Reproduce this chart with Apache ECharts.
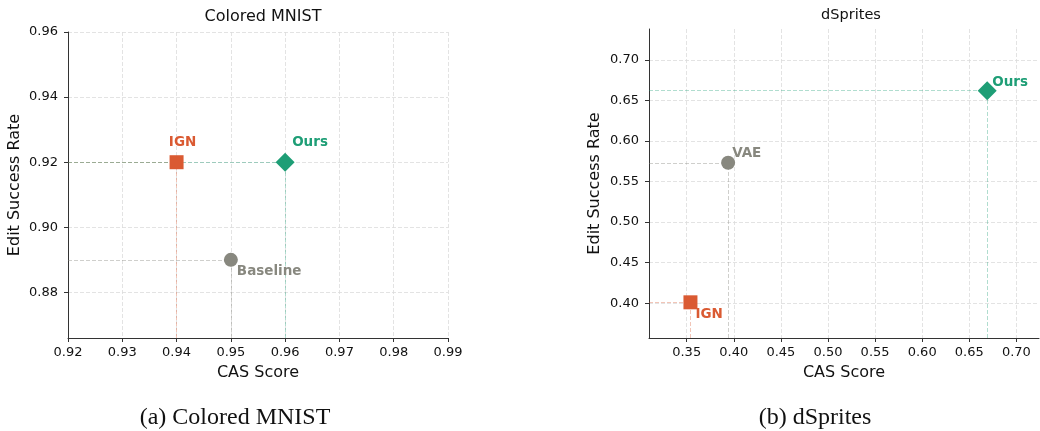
<!DOCTYPE html>
<html><head><meta charset="utf-8">
<script src="https://cdn.jsdelivr.net/npm/echarts@6/dist/echarts.min.js"></script>
<style>html,body{margin:0;padding:0;background:#fff}#c{width:1040px;height:431px}</style>
</head><body><div id="c"></div>
<script>
// Colored MNIST
const mnistNames = ['IGN', 'Ours', 'Baseline'];
const mnistCAS = [0.94, 0.96, 0.95];
const mnistEdit = [0.92, 0.92, 0.89];
const mnistXTicks = [0.92, 0.93, 0.94, 0.95, 0.96, 0.97, 0.98, 0.99];
const mnistYTicks = [0.88, 0.90, 0.92, 0.94, 0.96];
// dSprites
const dsNames = ['IGN', 'VAE', 'Ours'];
const dsCAS = [0.354, 0.394, 0.669];
const dsEdit = [0.401, 0.573, 0.662];
const dsXTicks = [0.35, 0.40, 0.45, 0.50, 0.55, 0.60, 0.65, 0.70];
const dsYTicks = [0.40, 0.45, 0.50, 0.55, 0.60, 0.65, 0.70];

const COL = {IGN: '#da5a32', Ours: '#1e9e76', Baseline: '#88887f', VAE: '#88887f'};
const GUIDE = {IGN: 'rgba(218,90,50,0.35)', Ours: 'rgba(30,158,118,0.35)', Baseline: 'rgba(136,136,127,0.4)', VAE: 'rgba(136,136,127,0.4)'};
const SYM = {IGN: 'rect', Ours: 'diamond', Baseline: 'circle', VAE: 'circle'};
const SIZE = {IGN: 14, Ours: 19, Baseline: 14, VAE: 14};
const LBL = {
  0: {IGN: ['center', [6, -20]], Ours: ['left', [7, -20]], Baseline: ['left', [6, 12]]},
  1: {IGN: ['left', [5, 12]], VAE: ['left', [4, -9]], Ours: ['left', [5, -8]]}
};
const F = 'DejaVu Sans';

const chart = echarts.init(document.getElementById('c'));
const axisCommon = {
  axisLine: {show: true, lineStyle: {color: '#333', width: 1}},
  axisTick: {show: true, length: 4, lineStyle: {color: '#333'}},
  splitLine: {show: true, lineStyle: {color: '#dcdcdc', type: [4, 2], width: 0.8}},
  nameTextStyle: {fontFamily: F, fontSize: 16, color: '#111'}
};
function xAxis(idx, min, max, ticks, gap) {
  return Object.assign({}, axisCommon, {
    type: 'value', gridIndex: idx, min: min, max: max,
    name: 'CAS Score', nameLocation: 'middle', nameGap: gap,
    axisTick: Object.assign({}, axisCommon.axisTick, {customValues: ticks}),
    axisLabel: {customValues: ticks, margin: 8, fontFamily: F, fontSize: 13, color: '#111', formatter: v => v.toFixed(2)}
  });
}
function yAxis(idx, min, max, ticks, gap) {
  return Object.assign({}, axisCommon, {
    type: 'value', gridIndex: idx, min: min, max: max,
    name: 'Edit Success Rate', nameLocation: 'middle', nameGap: gap,
    axisTick: Object.assign({}, axisCommon.axisTick, {customValues: ticks}),
    axisLabel: {customValues: ticks, margin: 10, fontFamily: F, fontSize: 13, color: '#111', formatter: v => v.toFixed(2)}
  });
}
const xmins = [0.92, 0.31];
const ymins = [0.866, 0.357];
function seriesFor(idx, names, xs, ys) {
  return names.map((n, i) => ({
    type: 'scatter', xAxisIndex: idx, yAxisIndex: idx, name: n,
    data: [[xs[i], ys[i]]],
    symbol: SYM[n], symbolSize: SIZE[n],
    itemStyle: {color: COL[n], opacity: 1},
    z: 5,
    label: {show: true, formatter: n, position: 'inside', align: LBL[idx][n][0], verticalAlign: 'middle',
      offset: LBL[idx][n][1], color: COL[n], fontFamily: F, fontWeight: 'bold', fontSize: 13.5},
    markLine: {silent: true, symbol: 'none', animation: false, label: {show: false},
      lineStyle: {color: GUIDE[n], type: [4, 2], width: 1},
      data: [
        [{coord: [xmins[idx], ys[i]]}, {coord: [xs[i], ys[i]]}],
        [{coord: [xs[i], ymins[idx]]}, {coord: [xs[i], ys[i]]}]
      ]}
  }));
}
chart.setOption({
  animation: false,
  title: [
    {text: 'Colored MNIST', left: 258, top: 4, textAlign: 'center', textStyle: {fontFamily: F, fontSize: 16, fontWeight: 'normal', color: '#111'}},
    {text: 'dSprites', left: 846, top: 3, textAlign: 'center', textStyle: {fontFamily: F, fontSize: 14.5, fontWeight: 'normal', color: '#111'}}
  ],
  grid: [
    {left: 68, right: 592, top: 32, bottom: 93, containLabel: false},
    {left: 649, right: 1, top: 29, bottom: 93, containLabel: false}
  ],
  xAxis: [xAxis(0, 0.92, 0.99, mnistXTicks, 27), xAxis(1, 0.31, 0.724, dsXTicks, 27)],
  yAxis: [yAxis(0, 0.866, 0.96, mnistYTicks, 45), yAxis(1, 0.357, 0.738, dsYTicks, 46)],
  series: [].concat(seriesFor(0, mnistNames, mnistCAS, mnistEdit), seriesFor(1, dsNames, dsCAS, dsEdit)),
  graphic: [
    {type: 'text', style: {text: '(a) Colored MNIST', x: 235, y: 418, align: 'center', verticalAlign: 'middle', font: '24px "Liberation Serif"', fill: '#111'}},
    {type: 'text', style: {text: '(b) dSprites', x: 815, y: 418, align: 'center', verticalAlign: 'middle', font: '24px "Liberation Serif"', fill: '#111'}}
  ]
});
</script></body></html>
